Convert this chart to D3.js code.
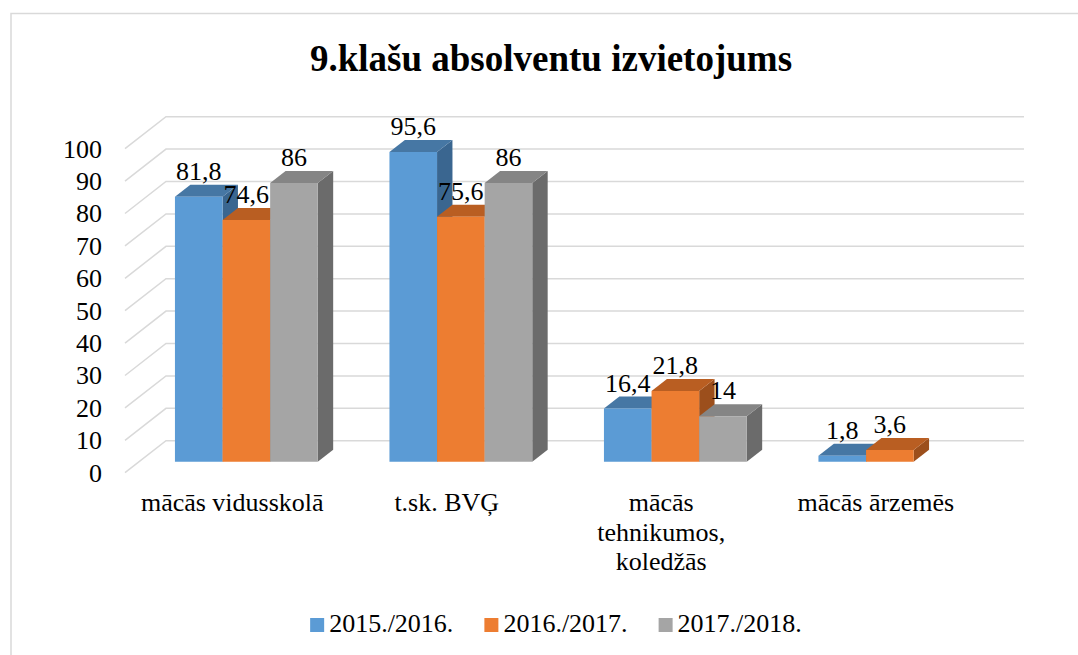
<html>
  <head>
    <meta charset="utf-8">
    <style>
      body {
        margin: 0;
        background: #fff;
      }
      svg text {
        font-family: "Liberation Serif", "Times New Roman", serif !important;
        fill: #000;
      }
    </style>
  </head>
  <body>
    <div id="chart"></div>
    <script src="https://d3js.org/d3.v7.min.js"></script>
    <script>
      var categories = ["mācās vidusskolā", "t.sk. BVĢ", "mācās tehnikumos, koledžās", "mācās ārzemēs"];
      var seriesNames = ["2015./2016.", "2016./2017.", "2017./2018."];
      var values2015 = [81.8, 95.6, 16.4, 1.8];
      var values2016 = [74.6, 75.6, 21.8, 3.6];
      var values2017 = [86, 86, 14, null];
      var yTicks = [0, 10, 20, 30, 40, 50, 60, 70, 80, 90, 100];

      var width = 1078,
        height = 655,
        serif = '"Liberation Serif", "Times New Roman", serif';

      // colours per series: front, top, side
      var shades = [
        { front: "#5b9bd5", top: "#4677a4", side: "#3a6690" },
        { front: "#ed7d31", top: "#b95e22", side: "#9c4f1c" },
        { front: "#a5a5a5", top: "#858585", side: "#6b6b6b" }
      ];

      var series = seriesNames.map(function (name, i) {
        return { name: name, values: [values2015, values2016, values2017][i], shade: shades[i] };
      });

      // depth of the whole plot box, and where the bars sit inside it
      var depth = { x: 41, y: -32 },
        f0 = 0.344,
        f1 = 0.72;

      var svg = d3
        .select("#chart")
        .append("svg")
        .attr("width", width)
        .attr("height", height)
        .attr("font-family", serif);

      // chart frame (right and bottom edge are off the page)
      svg.append("path")
        .attr("d", "M11,655V13.5H1078")
        .attr("fill", "none")
        .attr("stroke", "#d9d9d9")
        .attr("stroke-width", 1.5);

      svg.append("text")
        .attr("x", 551)
        .attr("y", 71)
        .attr("text-anchor", "middle")
        .style("font-family", serif)
        .style("font-size", "37px")
        .style("font-weight", "bold")
        .text("9.klašu absolventu izvietojums");

      var x0 = d3.scaleBand().domain(categories).range([125, 983]);
      var x1 = d3
        .scaleBand()
        .domain(seriesNames)
        .range([0, x0.bandwidth()])
        .paddingInner(0)
        .paddingOuter(0.753);
      var y = d3.scaleLinear().domain([0, 100]).range([472.7, 148.7]);

      function proj(px, v, f) {
        return [px + f * depth.x, y(v) + f * depth.y];
      }

      // gridlines: left wall diagonals and back wall
      var grid = svg.append("g").attr("stroke", "#d9d9d9").attr("stroke-width", 1.5).attr("fill", "none");
      grid.selectAll("path")
        .data(yTicks)
        .enter()
        .append("path")
        .attr("d", function (t) {
          var a = proj(125, t, 0),
            b = proj(125, t, 1),
            c = proj(983, t, 1);
          return "M" + a + "L" + b + "L" + c;
        });

      // y axis labels
      var yAxis = svg.append("g")
        .attr("transform", "translate(125,0)")
        .call(d3.axisLeft(y).tickValues(yTicks).tickSize(0).tickPadding(23));
      yAxis.attr("font-family", serif).attr("font-size", 26);
      yAxis.select(".domain").remove();
      yAxis.selectAll("text")
        .style("font-size", "26px")
        .style("font-family", serif);

      function poly(pts) {
        return "M" + pts.join("L") + "Z";
      }

      var bars = svg.append("g");
      categories.forEach(function (cat, ci) {
        series.forEach(function (s) {
          var v = s.values[ci];
          if (v == null) return;
          var xl = x0(cat) + x1(s.name),
            xr = xl + x1.bandwidth();
          var g = bars.append("g");
          g.append("path")
            .attr("d", poly([proj(xr, 0, f0), proj(xr, v, f0), proj(xr, v, f1), proj(xr, 0, f1)]))
            .attr("fill", s.shade.side);
          g.append("path")
            .attr("d", poly([proj(xl, v, f0), proj(xr, v, f0), proj(xr, v, f1), proj(xl, v, f1)]))
            .attr("fill", s.shade.top);
          g.append("path")
            .attr("d", poly([proj(xl, 0, f0), proj(xr, 0, f0), proj(xr, v, f0), proj(xl, v, f0)]))
            .attr("fill", s.shade.front);
        });
      });

      // data labels
      var labels = svg.append("g")
        .style("font-size", "26px")
        .style("font-family", serif)
        .attr("text-anchor", "middle");
      categories.forEach(function (cat, ci) {
        series.forEach(function (s) {
          var v = s.values[ci];
          if (v == null) return;
          var p = proj(x0(cat) + x1(s.name) + x1.bandwidth() / 2, v, f0);
          labels.append("text")
            .attr("x", p[0])
            .attr("y", p[1] - 17)
            .text(String(v).replace(".", ","));
        });
      });

      // category labels, wrapped like the original
      var catG = svg.append("g")
        .style("font-size", "26px")
        .style("font-family", serif)
        .attr("text-anchor", "middle");
      categories.forEach(function (cat) {
        var cx = x0(cat) + x0.bandwidth() / 2;
        var t = catG.append("text").attr("x", cx).attr("y", 511);
        var words = cat.split(" "),
          line = [];
        var tspan = t.append("tspan").attr("x", cx).attr("dy", 0);
        words.forEach(function (w) {
          line.push(w);
          tspan.text(line.join(" "));
          if (tspan.node().getComputedTextLength() > 195 && line.length > 1) {
            line.pop();
            tspan.text(line.join(" "));
            line = [w];
            tspan = t.append("tspan").attr("x", cx).attr("dy", 29.5).text(w);
          }
        });
      });

      // legend
      var legend = svg.append("g")
        .style("font-size", "26px")
        .style("font-family", serif);
      var items = legend.selectAll("g").data(series).enter().append("g");
      items.append("rect")
        .attr("width", 14)
        .attr("height", 14)
        .attr("y", 618)
        .attr("fill", function (d) { return d.shade.front; });
      items.append("text")
        .attr("x", 19)
        .attr("y", 632)
        .text(function (d) { return d.name; });
      var widths = [];
      items.each(function () { widths.push(this.getBBox().width); });
      var total = d3.sum(widths) + 31 * (widths.length - 1);
      var pos = 556 - total / 2;
      items.attr("transform", function (d, i) {
        var tx = pos;
        pos += widths[i] + 31;
        return "translate(" + tx + ",0)";
      });
    </script>
  </body>
</html>
